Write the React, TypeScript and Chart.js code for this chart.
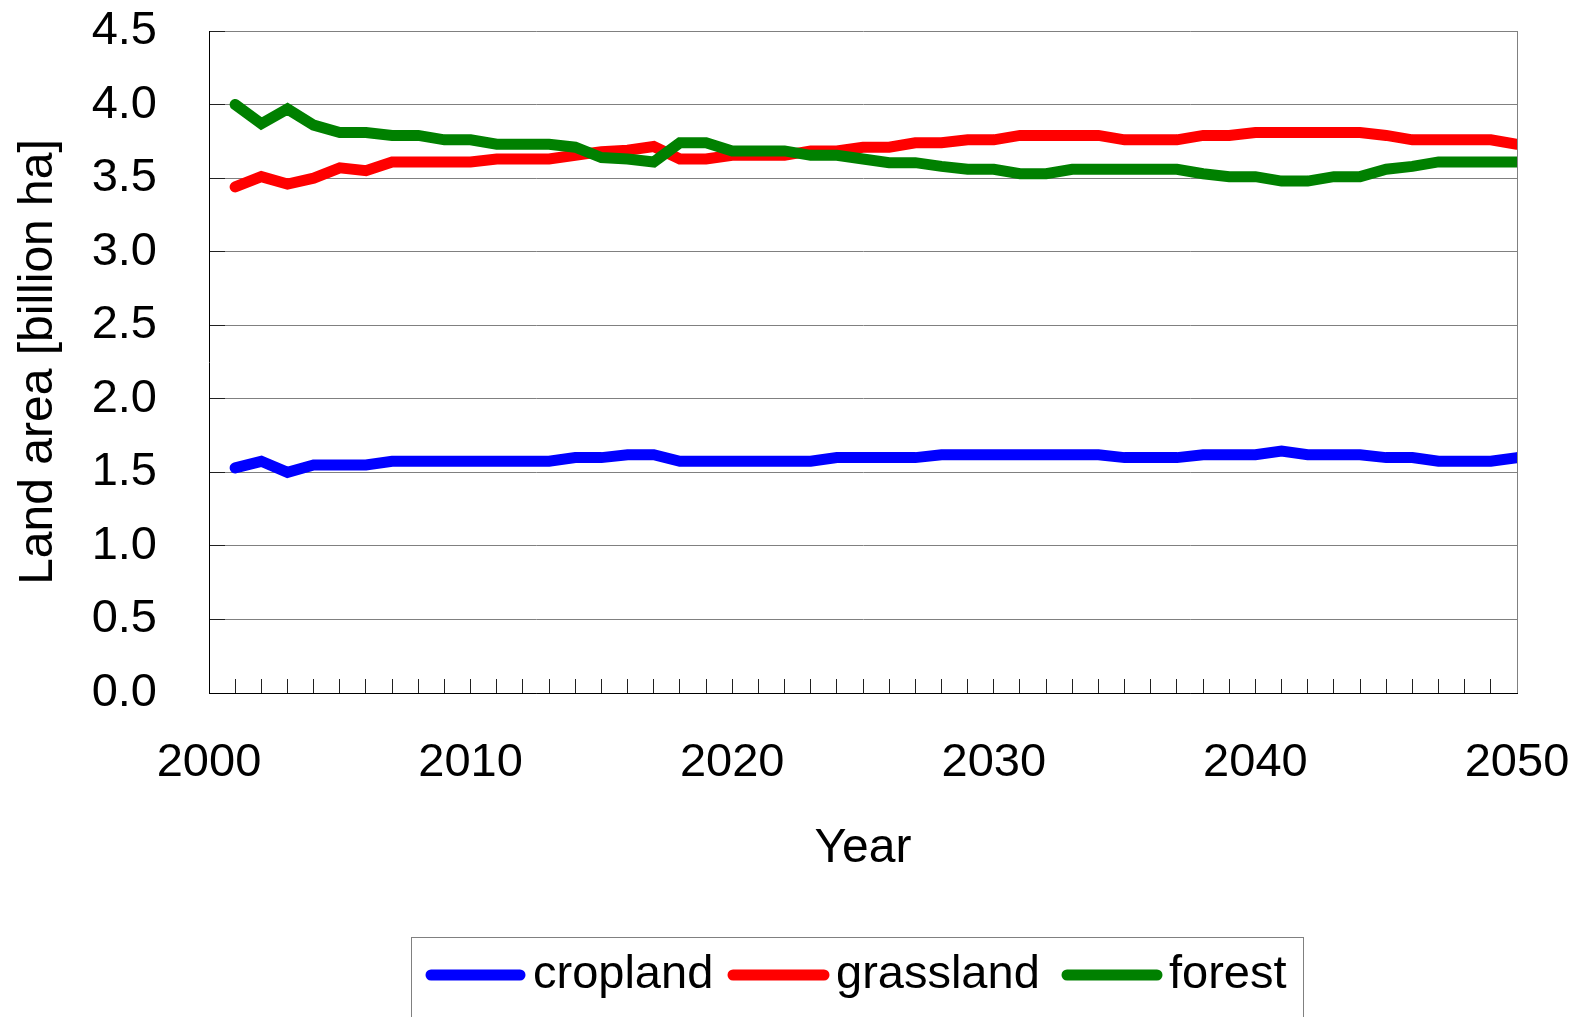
import { useEffect, useRef } from "react";
import { Chart, registerables } from "chart.js";

Chart.register(...registerables);

const FONT = "'Liberation Sans', Arial, sans-serif";

const years = [
  2001, 2002, 2003, 2004, 2005, 2006, 2007, 2008, 2009, 2010,
  2011, 2012, 2013, 2014, 2015, 2016, 2017, 2018, 2019, 2020,
  2021, 2022, 2023, 2024, 2025, 2026, 2027, 2028, 2029, 2030,
  2031, 2032, 2033, 2034, 2035, 2036, 2037, 2038, 2039, 2040,
  2041, 2042, 2043, 2044, 2045, 2046, 2047, 2048, 2049, 2050,
];

const cropland = [
  1.53, 1.575, 1.50, 1.55, 1.55, 1.55, 1.575, 1.575, 1.575, 1.575,
  1.575, 1.575, 1.575, 1.60, 1.60, 1.62, 1.62, 1.575, 1.575, 1.575,
  1.575, 1.575, 1.575, 1.60, 1.60, 1.60, 1.60, 1.62, 1.62, 1.62,
  1.62, 1.62, 1.62, 1.62, 1.60, 1.60, 1.60, 1.62, 1.62, 1.62,
  1.645, 1.62, 1.62, 1.62, 1.60, 1.60, 1.575, 1.575, 1.575, 1.60,
];

const grassland = [
  3.44, 3.51, 3.46, 3.50, 3.57, 3.55, 3.61, 3.61, 3.61, 3.61,
  3.63, 3.63, 3.63, 3.655, 3.68, 3.69, 3.715, 3.63, 3.63, 3.655,
  3.655, 3.655, 3.685, 3.685, 3.71, 3.71, 3.74, 3.74, 3.76, 3.76,
  3.79, 3.79, 3.79, 3.79, 3.76, 3.76, 3.76, 3.79, 3.79, 3.81,
  3.81, 3.81, 3.81, 3.81, 3.79, 3.76, 3.76, 3.76, 3.76, 3.73,
];

const forest = [
  4.00, 3.87, 3.97, 3.86, 3.81, 3.81, 3.79, 3.79, 3.76, 3.76,
  3.73, 3.73, 3.73, 3.71, 3.64, 3.63, 3.61, 3.74, 3.74, 3.685,
  3.685, 3.685, 3.655, 3.655, 3.63, 3.605, 3.605, 3.58, 3.56, 3.56,
  3.53, 3.53, 3.56, 3.56, 3.56, 3.56, 3.56, 3.53, 3.51, 3.51,
  3.48, 3.48, 3.51, 3.51, 3.56, 3.58, 3.61, 3.61, 3.61, 3.61,
];

const seriesNames = ["cropland", "grassland", "forest"];
const seriesColors = ["#0000FF", "#FF0000", "#008000"];
const xLabelYears = [2000, 2010, 2020, 2030, 2040, 2050];
const yTickValues = [0, 0.5, 1, 1.5, 2, 2.5, 3, 3.5, 4, 4.5];

// legend layout (styles)
const legendLineStart = [431, 733, 1067];
const legendLineEnd = [520, 824, 1157];
const legendTextX = [533, 836, 1169];

const boxLegendPlugin = {
  id: "boxLegend",
  afterDraw(chart: any) {
    const ctx = chart.ctx as CanvasRenderingContext2D;
    ctx.save();
    ctx.strokeStyle = "#808080";
    ctx.lineWidth = 1;
    ctx.strokeRect(411.5, 937.5, 892, 120);
    ctx.font = `47px ${FONT}`;
    ctx.textBaseline = "middle";
    ctx.textAlign = "left";
    chart.data.datasets.forEach((ds: any, i: number) => {
      ctx.strokeStyle = ds.borderColor;
      ctx.lineWidth = 11;
      ctx.lineCap = "round";
      ctx.beginPath();
      ctx.moveTo(legendLineStart[i], 975);
      ctx.lineTo(legendLineEnd[i], 975);
      ctx.stroke();
      ctx.fillStyle = "#000";
      ctx.fillText(ds.label, legendTextX[i], 975);
    });
    ctx.restore();
  },
};

const plotFramePlugin = {
  id: "plotFrame",
  beforeDatasetsDraw(chart: any) {
    const { ctx, chartArea } = chart;
    ctx.save();
    ctx.strokeStyle = "#808080";
    ctx.lineWidth = 1;
    ctx.beginPath();
    ctx.moveTo(Math.round(chartArea.right) + 0.5, chartArea.top);
    ctx.lineTo(Math.round(chartArea.right) + 0.5, chartArea.bottom);
    ctx.stroke();
    ctx.restore();
  },
};

function zeroPadding(scale: any) {
  scale.paddingTop = 0;
  scale.paddingBottom = 0;
  scale.paddingLeft = 0;
  scale.paddingRight = 0;
}

export default function App() {
  const ref = useRef<HTMLCanvasElement | null>(null);

  useEffect(() => {
    if (!ref.current) return;
    const seriesValues = [cropland, grassland, forest];
    const chart = new Chart(ref.current, {
      type: "line",
      data: {
        datasets: seriesNames.map((name, i) => ({
          label: name,
          data: years.map((yr, j) => ({ x: yr, y: seriesValues[i][j] })),
          borderColor: seriesColors[i],
          backgroundColor: seriesColors[i],
          borderWidth: 11,
          borderCapStyle: "round" as const,
          pointRadius: 0,
          tension: 0,
          order: 2 - i,
        })),
      },
      options: {
        responsive: false,
        animation: false,
        layout: { padding: { top: 31, right: 68, bottom: 124, left: 0 } },
        plugins: {
          legend: { display: false },
          tooltip: { enabled: false },
        },
        scales: {
          x: {
            type: "linear",
            min: 2000,
            max: 2050,
            afterFit: (scale: any) => {
              scale.height = 200;
              zeroPadding(scale);
            },
            ticks: {
              stepSize: 1,
              autoSkip: false,
              maxRotation: 0,
              minRotation: 0,
              padding: 55.4,
              color: "#000",
              font: { size: 47, family: FONT },
              callback: (v: any) => (xLabelYears.includes(Number(v)) ? String(v) : ""),
            },
            grid: {
              drawOnChartArea: false,
              drawTicks: true,
              tickLength: -14,
              tickColor: "#202020",
              tickWidth: 1,
            },
            border: { color: "#000", width: 1 },
            title: {
              display: true,
              text: "Year",
              color: "#000",
              font: { size: 48, family: FONT },
              padding: { top: 0, bottom: 15.2 },
            },
          },
          y: {
            type: "linear",
            min: yTickValues[0],
            max: yTickValues[yTickValues.length - 1],
            afterFit: (scale: any) => {
              scale.width = 209;
              zeroPadding(scale);
            },
            ticks: {
              stepSize: 0.5,
              padding: 68,
              color: "#000",
              font: { size: 47, family: FONT },
              callback: (v: any) => Number(v).toFixed(1),
            },
            grid: {
              color: "#808080",
              lineWidth: 1,
              drawTicks: true,
              tickLength: -16,
              tickColor: "#202020",
              tickWidth: 1,
            },
            border: { color: "#000", width: 1 },
            title: {
              display: true,
              text: "Land area [billion ha]",
              color: "#000",
              font: { size: 48, family: FONT },
              padding: { top: 10.2, bottom: 0 },
            },
          },
        },
      },
      plugins: [plotFramePlugin, boxLegendPlugin],
    });
    return () => chart.destroy();
  }, []);

  return (
    <div style={{ position: "fixed", left: 0, top: 0, width: 1585, height: 1017, background: "#fff" }}>
      <canvas ref={ref} width={1585} height={1017} style={{ display: "block" }} />
    </div>
  );
}
